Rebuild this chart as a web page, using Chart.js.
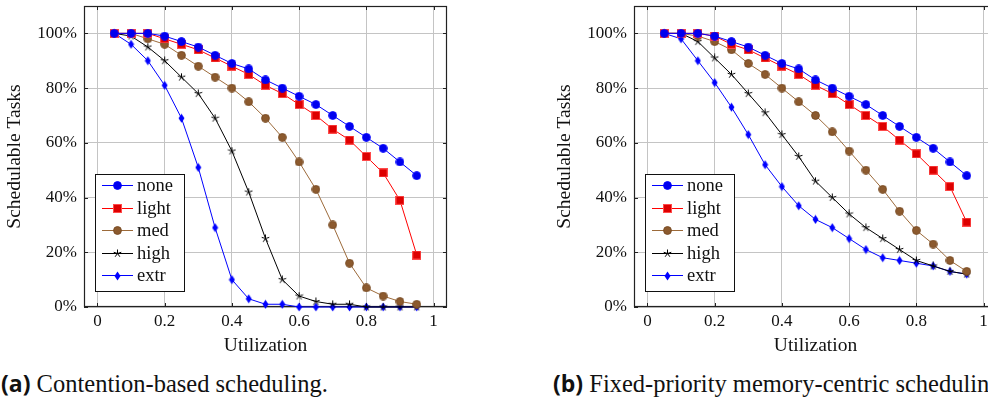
<!DOCTYPE html>
<html>
<head>
<meta charset="utf-8">
<script src="https://cdn.jsdelivr.net/npm/chart.js@4/dist/chart.umd.min.js"></script>
<style>
  body { margin: 0; background: #fff; width: 988px; height: 401px; overflow: hidden; position: relative; }
  .box { position: absolute; top: 0; width: 470px; height: 365px; }
  #boxA { left: 0; }
  #boxB { left: 550px; }
  .cap { position: absolute; top: 369px; font-family: 'Liberation Serif', 'Times New Roman', Tinos; font-size: 24.5px; line-height: 28px; color: #111; white-space: nowrap; }
  .cap b { font-family: 'Open Sans', 'Noto Sans'; font-weight: 700; font-size: 23px; }
</style>
</head>
<body>
<div class="box" id="boxA"><canvas id="chartA" width="470" height="365"></canvas></div>
<div class="box" id="boxB"><canvas id="chartB" width="470" height="365"></canvas></div>
<div class="cap" style="left:1px"><b>(a)</b> Contention-based scheduling.</div>
<div class="cap" style="left:553px"><b>(b)</b> Fixed-priority memory-centric scheduling.</div>
<script>
// data
const utilization = [0.05, 0.1, 0.15, 0.2, 0.25, 0.3, 0.35, 0.4, 0.45, 0.5, 0.55, 0.6, 0.65, 0.7, 0.75, 0.8, 0.85, 0.9, 0.95];
const seriesNames = ['none', 'light', 'med', 'high', 'extr'];
const xTicks = [0, 0.2, 0.4, 0.6, 0.8, 1];
const yTicks = [0, 20, 40, 60, 80, 100];

// (a) contention-based
const contNone  = [100, 100, 100, 99, 97, 95, 92, 89, 87, 83, 80, 77, 74, 70, 66, 62, 58, 53, 48];
const contLight = [100, 100, 100, 98, 96, 94, 91, 88, 85, 81, 78, 74, 70, 65, 61, 55, 49, 39, 19];
const contMed   = [100, 100, 98, 96, 92, 88, 84, 80, 75, 69, 62, 53, 43, 30, 16, 7, 4, 2, 1];
const contHigh  = [100, 99, 95, 90, 84, 78, 69, 57, 42, 25, 10, 4, 2, 1, 1, 0, 0, 0, 0];
const contExtr  = [100, 96, 90, 81, 69, 51, 29, 10, 3, 1, 1, 0, 0, 0, 0, 0, 0, 0, 0];

// (b) fixed-priority memory-centric
const fpNone  = [100, 100, 100, 99, 97, 95, 92, 89, 87, 83, 80, 77, 74, 70, 66, 62, 58, 53, 48];
const fpLight = [100, 100, 100, 99, 96, 94, 91, 88, 85, 81, 78, 74, 70, 66, 61, 56, 50, 44, 31];
const fpMed   = [100, 100, 99, 97, 94, 89, 85, 80, 75, 70, 64, 57, 50, 43, 35, 28, 23, 17, 13];
const fpHigh  = [100, 100, 97, 91, 85, 78, 71, 63, 55, 46, 40, 34, 29, 25, 21, 17, 15, 13, 12];
const fpExtr  = [100, 98, 90, 82, 73, 63, 52, 44, 37, 32, 29, 25, 21, 18, 17, 16, 15, 13, 12];

// no generic "serif" here: in this sandbox it maps to a sans face
const FONT = "'Liberation Serif', 'Times New Roman', Tinos";

// little marker images, pgfplots style
function marker(w, h, draw) {
  const c = document.createElement('canvas');
  c.width = w; c.height = h;
  draw(c.getContext('2d'), w, h);
  return c;
}
const dot = (fill, stroke) => marker(9, 9, (g) => {
  g.beginPath(); g.arc(4.5, 4.5, 3.9, 0, Math.PI * 2);
  g.fillStyle = fill; g.fill();
  g.strokeStyle = stroke; g.lineWidth = 1; g.stroke();
});
const square = marker(9, 9, (g) => {
  g.fillStyle = '#dd0000'; g.fillRect(0.5, 0.5, 8, 8);
  g.strokeStyle = '#ff4a4a'; g.lineWidth = 1; g.strokeRect(0.5, 0.5, 8, 8);
});
const star = marker(9, 9, (g) => {
  g.strokeStyle = '#000'; g.lineWidth = 1; g.beginPath();
  for (let k = 0; k < 5; k++) {
    const a = -Math.PI / 2 + k * 2 * Math.PI / 5;
    g.moveTo(4.5, 4.5); g.lineTo(4.5 + 4 * Math.cos(a), 4.5 + 4 * Math.sin(a));
  }
  g.stroke();
});
const diamond = marker(7, 10, (g) => {
  g.fillStyle = '#0000ff'; g.beginPath();
  g.moveTo(3.5, 0.5); g.lineTo(6.5, 5); g.lineTo(3.5, 9.5); g.lineTo(0.5, 5); g.closePath(); g.fill();
});

const seriesStyle = [
  { color: '#0000ff', point: dot('#0000ee', '#0000ff') },
  { color: '#ff0000', point: square },
  { color: '#9c6a3a', point: dot('#8c5a2e', '#7a4d26') },
  { color: '#000000', point: star },
  { color: '#0000ff', point: diamond }
];

const framePlugin = {
  id: 'frame',
  beforeDatasetsDraw(chart) {
    const { ctx, chartArea: a, scales: { x, y } } = chart;
    ctx.save();
    ctx.strokeStyle = '#222';
    ctx.lineWidth = 1;
    ctx.beginPath();
    xTicks.forEach(v => {
      const px = Math.round(x.getPixelForValue(v)) + 0.5;
      ctx.moveTo(px, a.bottom); ctx.lineTo(px, a.bottom - 4);
      ctx.moveTo(px, a.top); ctx.lineTo(px, a.top + 4);
    });
    yTicks.forEach(v => {
      const py = Math.round(y.getPixelForValue(v)) + 0.5;
      ctx.moveTo(a.left, py); ctx.lineTo(a.left + 4, py);
      ctx.moveTo(a.right, py); ctx.lineTo(a.right - 4, py);
    });
    ctx.stroke();
    ctx.lineWidth = 1.2;
    ctx.strokeRect(a.left + 0.5, a.top + 0.5, a.width - 1, a.height - 1);
    ctx.restore();
  },
  afterDatasetsDraw(chart) {
    // legend box, bottom left inside the axes
    const { ctx, chartArea: a } = chart;
    const bw = 89, bh = 117;
    const bx = a.left + 11, by = a.bottom - 16 - bh;
    ctx.save();
    ctx.fillStyle = '#fff';
    ctx.fillRect(bx, by, bw, bh);
    ctx.strokeStyle = '#111';
    ctx.lineWidth = 1;
    ctx.strokeRect(bx + 0.5, by + 0.5, bw, bh);
    ctx.font = '18.5px ' + FONT;
    ctx.textBaseline = 'middle';
    chart.data.datasets.forEach((ds, i) => {
      const cy = Math.round(by + 11 + i * 22.5) + 0.5;
      ctx.strokeStyle = ds.borderColor;
      ctx.beginPath(); ctx.moveTo(bx + 7, cy); ctx.lineTo(bx + 38, cy); ctx.stroke();
      const m = ds.pointStyle;
      ctx.drawImage(m, Math.round(bx + 22.5 - m.width / 2), Math.round(cy - m.height / 2));
      ctx.fillStyle = '#111';
      ctx.fillText(ds.label, bx + 42, cy + 1);
    });
    ctx.restore();
  }
};

function makeChart(id, values) {
  return new Chart(document.getElementById(id), {
    type: 'line',
    data: {
      datasets: values.map((vals, i) => ({
        label: seriesNames[i],
        data: vals.map((v, j) => ({ x: utilization[j], y: v })),
        borderColor: seriesStyle[i].color,
        borderWidth: 1,
        pointStyle: seriesStyle[i].point,
        pointRadius: 4,
        pointHoverRadius: 4,
        tension: 0,
        clip: false
      }))
    },
    options: {
      responsive: false,
      animation: false,
      events: [],
      layout: { padding: { top: 6, right: 23, left: 0, bottom: 0 } },
      plugins: { legend: { display: false }, tooltip: { enabled: false } },
      scales: {
        x: {
          type: 'linear',
          min: -0.04, max: 1.04,
          afterBuildTicks: s => { s.ticks = xTicks.map(v => ({ value: v })); },
          afterFit: s => { s.height = 58; s.paddingLeft = 0; s.paddingRight = 0; },
          grid: { color: '#c4c4c4', drawTicks: false },
          border: { display: false },
          ticks: {
            padding: 4, maxRotation: 0, autoSkip: false, color: '#111',
            font: { family: FONT, size: 17 },
            callback: v => String(v)
          },
          title: { display: true, text: 'Utilization', color: '#111', padding: { top: 0, bottom: 7 }, font: { family: FONT, size: 19.5 } }
        },
        y: {
          min: 0, max: 110,
          afterBuildTicks: s => { s.ticks = yTicks.map(v => ({ value: v })); },
          afterFit: s => { s.width = 84; s.paddingTop = 0; s.paddingBottom = 0; },
          grid: { color: '#c4c4c4', drawTicks: false },
          border: { display: false },
          ticks: {
            padding: 7, color: '#111',
            font: { family: FONT, size: 17 },
            callback: v => v + '%'
          },
          title: { display: true, text: 'Schedulable Tasks', color: '#111', padding: { top: 3, bottom: 0 }, font: { family: FONT, size: 19.5 } }
        }
      }
    },
    plugins: [framePlugin]
  });
}

makeChart('chartA', [contNone, contLight, contMed, contHigh, contExtr]);
makeChart('chartB', [fpNone, fpLight, fpMed, fpHigh, fpExtr]);
</script>
</body>
</html>
